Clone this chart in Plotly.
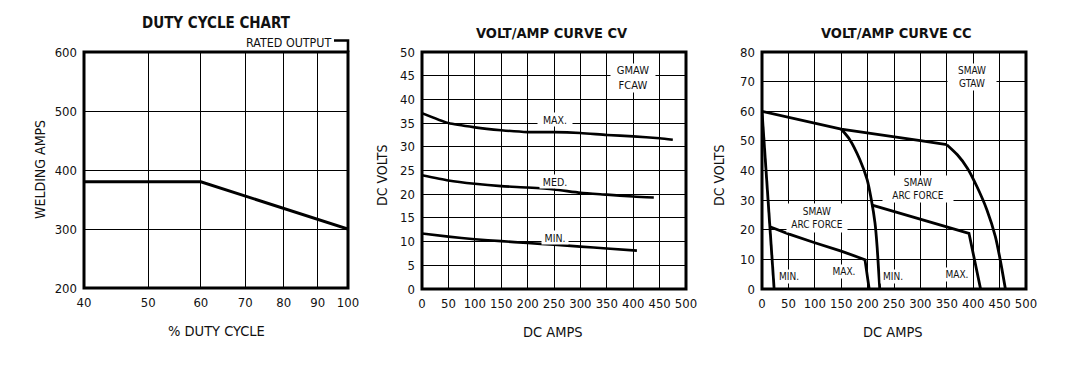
import math
import plotly.graph_objects as go

W, H = 1074, 388
OFF = 8  # page body margin offset
FONT = "DejaVu Sans Condensed, DejaVu Sans, sans-serif"

# ---------------- data ----------------
duty_pct = [40, 60, 100]
duty_amps = [380, 380, 300]
duty_ticks = [40, 50, 60, 70, 80, 90, 100]

cv_amps_max = [0, 50, 100, 150, 200, 250, 300, 350, 400, 450, 475]
cv_volts_max = [37.1, 35.0, 34.1, 33.5, 33.1, 33.1, 32.9, 32.5, 32.2, 31.8, 31.5]
cv_amps_med = [0, 50, 100, 150, 200, 250, 300, 350, 400, 439]
cv_volts_med = [24.0, 22.9, 22.2, 21.7, 21.4, 21.0, 20.3, 19.9, 19.5, 19.3]
cv_amps_min = [0, 50, 100, 150, 200, 250, 300, 350, 407]
cv_volts_min = [11.7, 11.05, 10.5, 10.1, 9.7, 9.35, 8.95, 8.55, 8.1]

cc_amps_top = [0, 150, 300, 350]
cc_volts_top = [60, 54, 50.1, 48.7]
cc_amps_maxdroop = [350, 370, 389, 407, 426, 442, 451, 461]
cc_volts_maxdroop = [48.7, 45.3, 40.8, 34.6, 26.7, 17.7, 10, 0]
cc_amps_mindroop = [150, 166, 185, 199, 207, 214, 218, 223]
cc_volts_mindroop = [54, 50.5, 43.8, 37, 30.2, 22.3, 14.3, 0]
cc_amps_minleft = [0, 15, 23]
cc_volts_minleft = [60, 21, 0]
cc_amps_arcleft = [15, 50, 100, 150, 195, 203]
cc_volts_arcleft = [21, 18.6, 15.6, 12.8, 9.9, 0]
cc_amps_arcright = [207, 300, 350, 392, 414]
cc_volts_arcright = [28.4, 23.7, 21.1, 18.8, 0]

# ---------------- layout helpers ----------------
def px_x(p):
    return (p - OFF) / W

def px_y(p):
    return 1 - (p - OFF) / H

fig = go.Figure()

line_style = dict(color="black", width=2.8)
curve_style = dict(color="black", width=2.8, shape="spline", smoothing=0.6)
fig.add_trace(go.Scatter(x=duty_pct, y=duty_amps, mode="lines", line=dict(color="black", width=3),
                         xaxis="x", yaxis="y", showlegend=False, hoverinfo="skip"))

for xs, ys in [(cv_amps_max, cv_volts_max), (cv_amps_med, cv_volts_med), (cv_amps_min, cv_volts_min)]:
    fig.add_trace(go.Scatter(x=xs, y=ys, mode="lines", line=dict(color="black", width=2.6, shape="spline", smoothing=0.6),
                             xaxis="x2", yaxis="y2", showlegend=False, hoverinfo="skip"))

for xs, ys, st in [(cc_amps_top, cc_volts_top, line_style),
                   (cc_amps_maxdroop, cc_volts_maxdroop, curve_style),
                   (cc_amps_mindroop, cc_volts_mindroop, curve_style),
                   (cc_amps_minleft, cc_volts_minleft, line_style),
                   (cc_amps_arcleft, cc_volts_arcleft, line_style),
                   (cc_amps_arcright, cc_volts_arcright, line_style)]:
    fig.add_trace(go.Scatter(x=xs, y=ys, mode="lines", line=st,
                             xaxis="x3", yaxis="y3", showlegend=False, hoverinfo="skip"))

tickfont = dict(family=FONT, size=13, color="#111")
common = dict(showgrid=True, gridcolor="black", gridwidth=1.2, zeroline=False, showline=False,
              ticks="", tickfont=tickfont, fixedrange=True, automargin=False, tickangle=0)

fig.update_layout(
    width=W, height=H, margin=dict(l=0, r=0, t=0, b=0, pad=0, autoexpand=False),
    paper_bgcolor="white", plot_bgcolor="white",
    xaxis=dict(common, type="log", range=[math.log10(40), 2], tickvals=duty_ticks,
               domain=[px_x(84), px_x(348)], anchor="y", ticklabelstandoff=5),
    yaxis=dict(common, range=[200, 600], dtick=100, domain=[px_y(288), px_y(52)], anchor="x",
               ticklabelstandoff=6),
    xaxis2=dict(common, range=[0, 500], dtick=50, domain=[px_x(422), px_x(686)], anchor="y2",
                ticklabelstandoff=5),
    yaxis2=dict(common, range=[0, 50], dtick=5, domain=[px_y(289), px_y(52)], anchor="x2",
                ticklabelstandoff=6),
    xaxis3=dict(common, range=[0, 500], dtick=50, domain=[px_x(762), px_x(1026)], anchor="y3",
                ticklabelstandoff=5),
    yaxis3=dict(common, range=[0, 80], dtick=10, domain=[px_y(289), px_y(52)], anchor="x3",
                ticklabelstandoff=6),
)

# borders
shapes = []
for ax in ["", "2", "3"]:
    shapes.append(dict(type="rect", xref=f"x{ax} domain", yref=f"y{ax} domain", x0=0, x1=1, y0=0, y1=1,
                       line=dict(color="black", width=3), layer="above"))
# rated output bracket
shapes.append(dict(type="path", xref="paper", yref="paper",
                   path=f"M {px_x(334)} {px_y(40.5)} L {px_x(348)} {px_y(40.5)} L {px_x(348)} {px_y(52)}",
                   line=dict(color="black", width=2.6)))
fig.update_layout(shapes=shapes)

ann = []
def ptext(text, x, y, size=15, bold=False, angle=0, xanchor="center"):
    f = dict(family=FONT, size=size, color="#111")
    if bold:
        f["weight"] = "bold"
    ann.append(dict(text=text, x=px_x(x), y=px_y(y), xref="paper", yref="paper", showarrow=False,
                    font=f, textangle=angle, xanchor=xanchor, yanchor="middle"))

ptext("DUTY CYCLE CHART", 216, 23, size=15, bold=True)
ptext("VOLT/AMP CURVE CV", 552, 33, size=14.5, bold=True)
ptext("VOLT/AMP CURVE CC", 896, 33, size=14.5, bold=True)
ptext("RATED OUTPUT", 288, 42, size=12.4)
ptext("% DUTY CYCLE", 216, 331, size=14.5)
ptext("DC AMPS", 553, 332, size=14.5)
ptext("DC AMPS", 893, 332, size=14.5)
ptext("WELDING AMPS", 40, 170, size=14, angle=-90)
ptext("DC VOLTS", 382, 175, size=14, angle=-90)
ptext("DC VOLTS", 719, 175, size=14, angle=-90)

def dlabel(text, x, y, ax, w, h, size=10):
    ann.append(dict(text=text, x=x, y=y, xref=f"x{ax}", yref=f"y{ax}", showarrow=False,
                    font=dict(family=FONT, size=size, color="#111"), bgcolor="white",
                    width=w, height=h, align="center", valign="middle", borderpad=0))

dlabel("GMAW<br>FCAW", 400, 44.5, "2", 44, 28, size=11)
dlabel("MAX.", 252, 35.7, "2", 34, 13, size=10.5)
dlabel("MED.", 252, 22.6, "2", 30, 13, size=10.5)
dlabel("MIN.", 251, 10.9, "2", 26, 13, size=10.5)

dlabel("SMAW<br>GTAW", 398, 71.4, "3", 48, 26)
dlabel("SMAW<br>ARC FORCE", 296, 33.6, "3", 70, 26)
dlabel("SMAW<br>ARC FORCE", 104, 24.1, "3", 60, 28)
dlabel("MIN.", 52, 4.2, "3", 24, 13)
dlabel("MAX.", 155, 5.8, "3", 26, 13)
dlabel("MIN.", 249, 4.3, "3", 24, 13)
dlabel("MAX.", 370, 5.0, "3", 26, 13)

fig.update_layout(annotations=ann)
fig.write_html("out.html")
